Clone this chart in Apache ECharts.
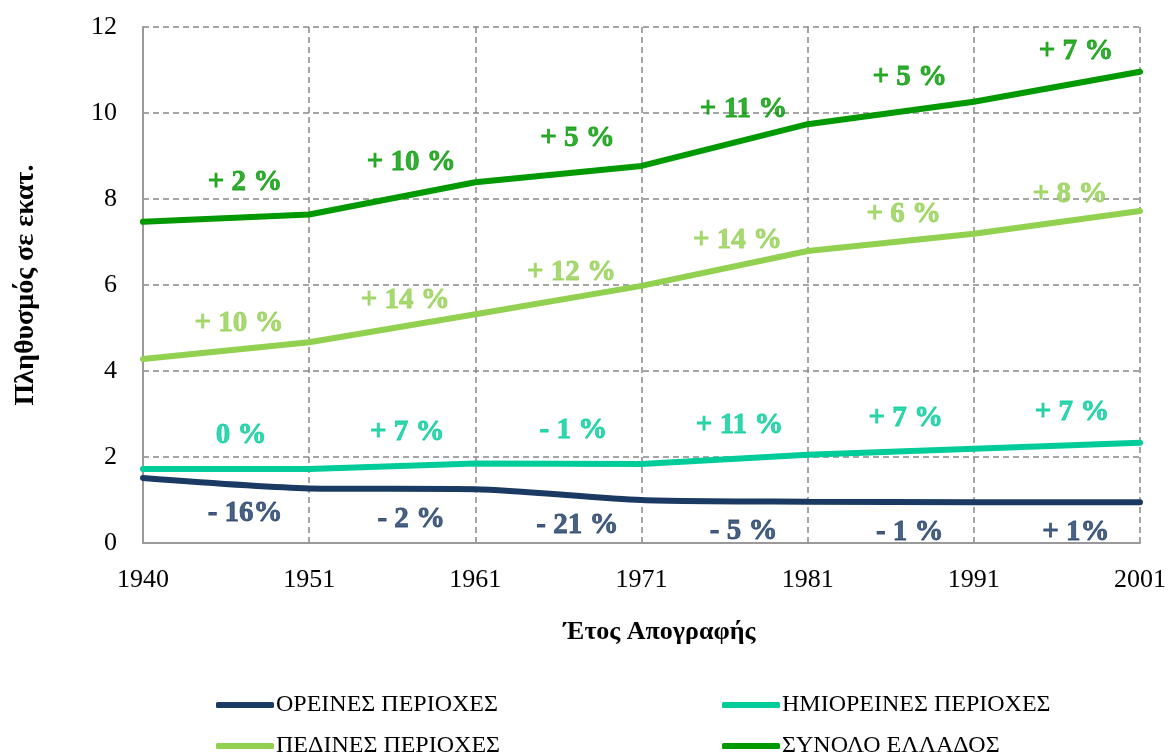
<!DOCTYPE html>
<html>
<head>
<meta charset="utf-8">
<script src="https://cdn.jsdelivr.net/npm/echarts@6/dist/echarts.min.js"></script>
<style>
  html, body { margin: 0; padding: 0; background: #fff; }
  #chart { width: 1169px; height: 756px; }
</style>
</head>
<body>
<div id="chart"></div>
<script>
  // δεδομένα (εκατ. κάτοικοι)
  const years = ['1940', '1951', '1961', '1971', '1981', '1991', '2001']
  const oreines = [1.51, 1.27, 1.25, 1.00, 0.96, 0.95, 0.95]
  const imioreines = [1.72, 1.72, 1.85, 1.84, 2.05, 2.19, 2.33]
  const pedines = [4.28, 4.67, 5.32, 5.98, 6.79, 7.19, 7.72]
  const synolo = [7.47, 7.64, 8.39, 8.77, 9.74, 10.26, 10.96]

  // μεταβολές ανά δεκαετία
  const chOreines = ['- 16%', '- 2 %', '- 21 %', '- 5 %', '- 1 %', '+ 1%']
  const chImioreines = ['0 %', '+ 7 %', '- 1 %', '+ 11 %', '+ 7 %', '+ 7 %']
  const chPedines = ['+ 10 %', '+ 14 %', '+ 12 %', '+ 14 %', '+ 6 %', '+ 8 %']
  const chSynolo = ['+ 2 %', '+ 10 %', '+ 5 %', '+ 11 %', '+ 5 %', '+ 7 %']

  const yTicks = [0, 2, 4, 6, 8, 10, 12]

  const names = ['ΟΡΕΙΝΕΣ ΠΕΡΙΟΧΕΣ', 'ΗΜΙΟΡΕΙΝΕΣ ΠΕΡΙΟΧΕΣ', 'ΠΕΔΙΝΕΣ ΠΕΡΙΟΧΕΣ', 'ΣΥΝΟΛΟ ΕΛΛΑΔΟΣ']
  const colors = ['#1b3a63', '#00cc99', '#92d050', '#009900']
  const values = [oreines, imioreines, pedines, synolo]
  const changes = [chOreines, chImioreines, chPedines, chSynolo]
  // ετικέτα κάτω από τη γραμμή μόνο για τις ορεινές
  const below = [true, false, false, false]
  const offsets = [[19, 16], [15, -19], [13, -13], [19, -21]]
  const smoothing = [0.25, 0, 0, 0]

  const serif = "'Liberation Serif', 'Times New Roman', serif"

  const lineSeries = values.map((v, k) => ({
    name: names[k],
    type: 'line',
    data: v,
    symbol: 'none',
    smooth: smoothing[k],
    lineStyle: { width: 6, color: colors[k], cap: 'round' },
    itemStyle: { color: colors[k] },
    z: 3,
  }))

  // ετικέτες στο μέσο κάθε τμήματος
  const labelSeries = values.map((v, k) => ({
    name: 'lbl' + k,
    type: 'scatter',
    xAxisIndex: 1,
    symbolSize: 0,
    silent: true,
    itemStyle: { color: colors[k] },
    data: changes[k].map((t, i) => [i + 0.5, (v[i] + v[i + 1]) / 2, t]),
    label: {
      show: true,
      position: below[k] ? 'bottom' : 'top',
      distance: 0,
      offset: offsets[k],
      formatter: (p) => p.data[2],
      color: colors[k],
      textBorderColor: colors[k],
      textBorderWidth: 0.8,
      fontFamily: serif,
      fontWeight: 'bold',
      fontSize: 29,
    },
    z: 4,
  }))

  const legendPos = [
    { left: 216, top: 693 },
    { left: 722, top: 693 },
    { left: 216, top: 734 },
    { left: 722, top: 734 },
  ]

  const chart = echarts.init(document.getElementById('chart'))
  chart.setOption({
    animation: false,
    grid: { left: 143, right: 26, top: 27, bottom: 213 },
    legend: names.map((n, k) => ({
      data: [n],
      left: legendPos[k].left,
      top: legendPos[k].top,
      icon: 'roundRect',
      itemWidth: 58,
      itemHeight: 6,
      itemGap: 0,
      padding: 0,
      textStyle: { fontFamily: serif, fontSize: 24, color: '#000', padding: [0, 0, 0, -3] },
    })),
    xAxis: [
      {
        type: 'category',
        data: years,
        boundaryGap: false,
        name: 'Έτος Απογραφής',
        nameLocation: 'middle',
        nameGap: 76,
        nameTextStyle: { fontFamily: serif, fontWeight: 'bold', fontSize: 26, color: '#000', padding: [0, 0, 0, 36] },
        axisLine: { lineStyle: { color: '#999', width: 2 } },
        axisTick: { show: false },
        axisLabel: { color: '#000', fontFamily: serif, fontSize: 26, margin: 24 },
        splitLine: { show: true, lineStyle: { color: '#888', width: 1.5, type: [6, 4] } },
      },
      {
        type: 'value',
        min: 0,
        max: years.length - 1,
        show: false,
      },
    ],
    yAxis: {
      type: 'value',
      min: yTicks[0],
      max: yTicks[yTicks.length - 1],
      interval: 2,
      name: 'Πληθυσμός σε εκατ.',
      nameLocation: 'middle',
      nameGap: 103,
      nameTextStyle: { fontFamily: serif, fontWeight: 'bold', fontSize: 28, color: '#000' },
      axisLine: { show: true, lineStyle: { color: '#999', width: 2 } },
      axisTick: { show: false },
      axisLabel: { color: '#000', fontFamily: serif, fontSize: 26, margin: 26 },
      splitLine: { show: true, lineStyle: { color: '#888', width: 1.5, type: [6, 4] } },
    },
    series: [...lineSeries, ...labelSeries],
  })
</script>
</body>
</html>
